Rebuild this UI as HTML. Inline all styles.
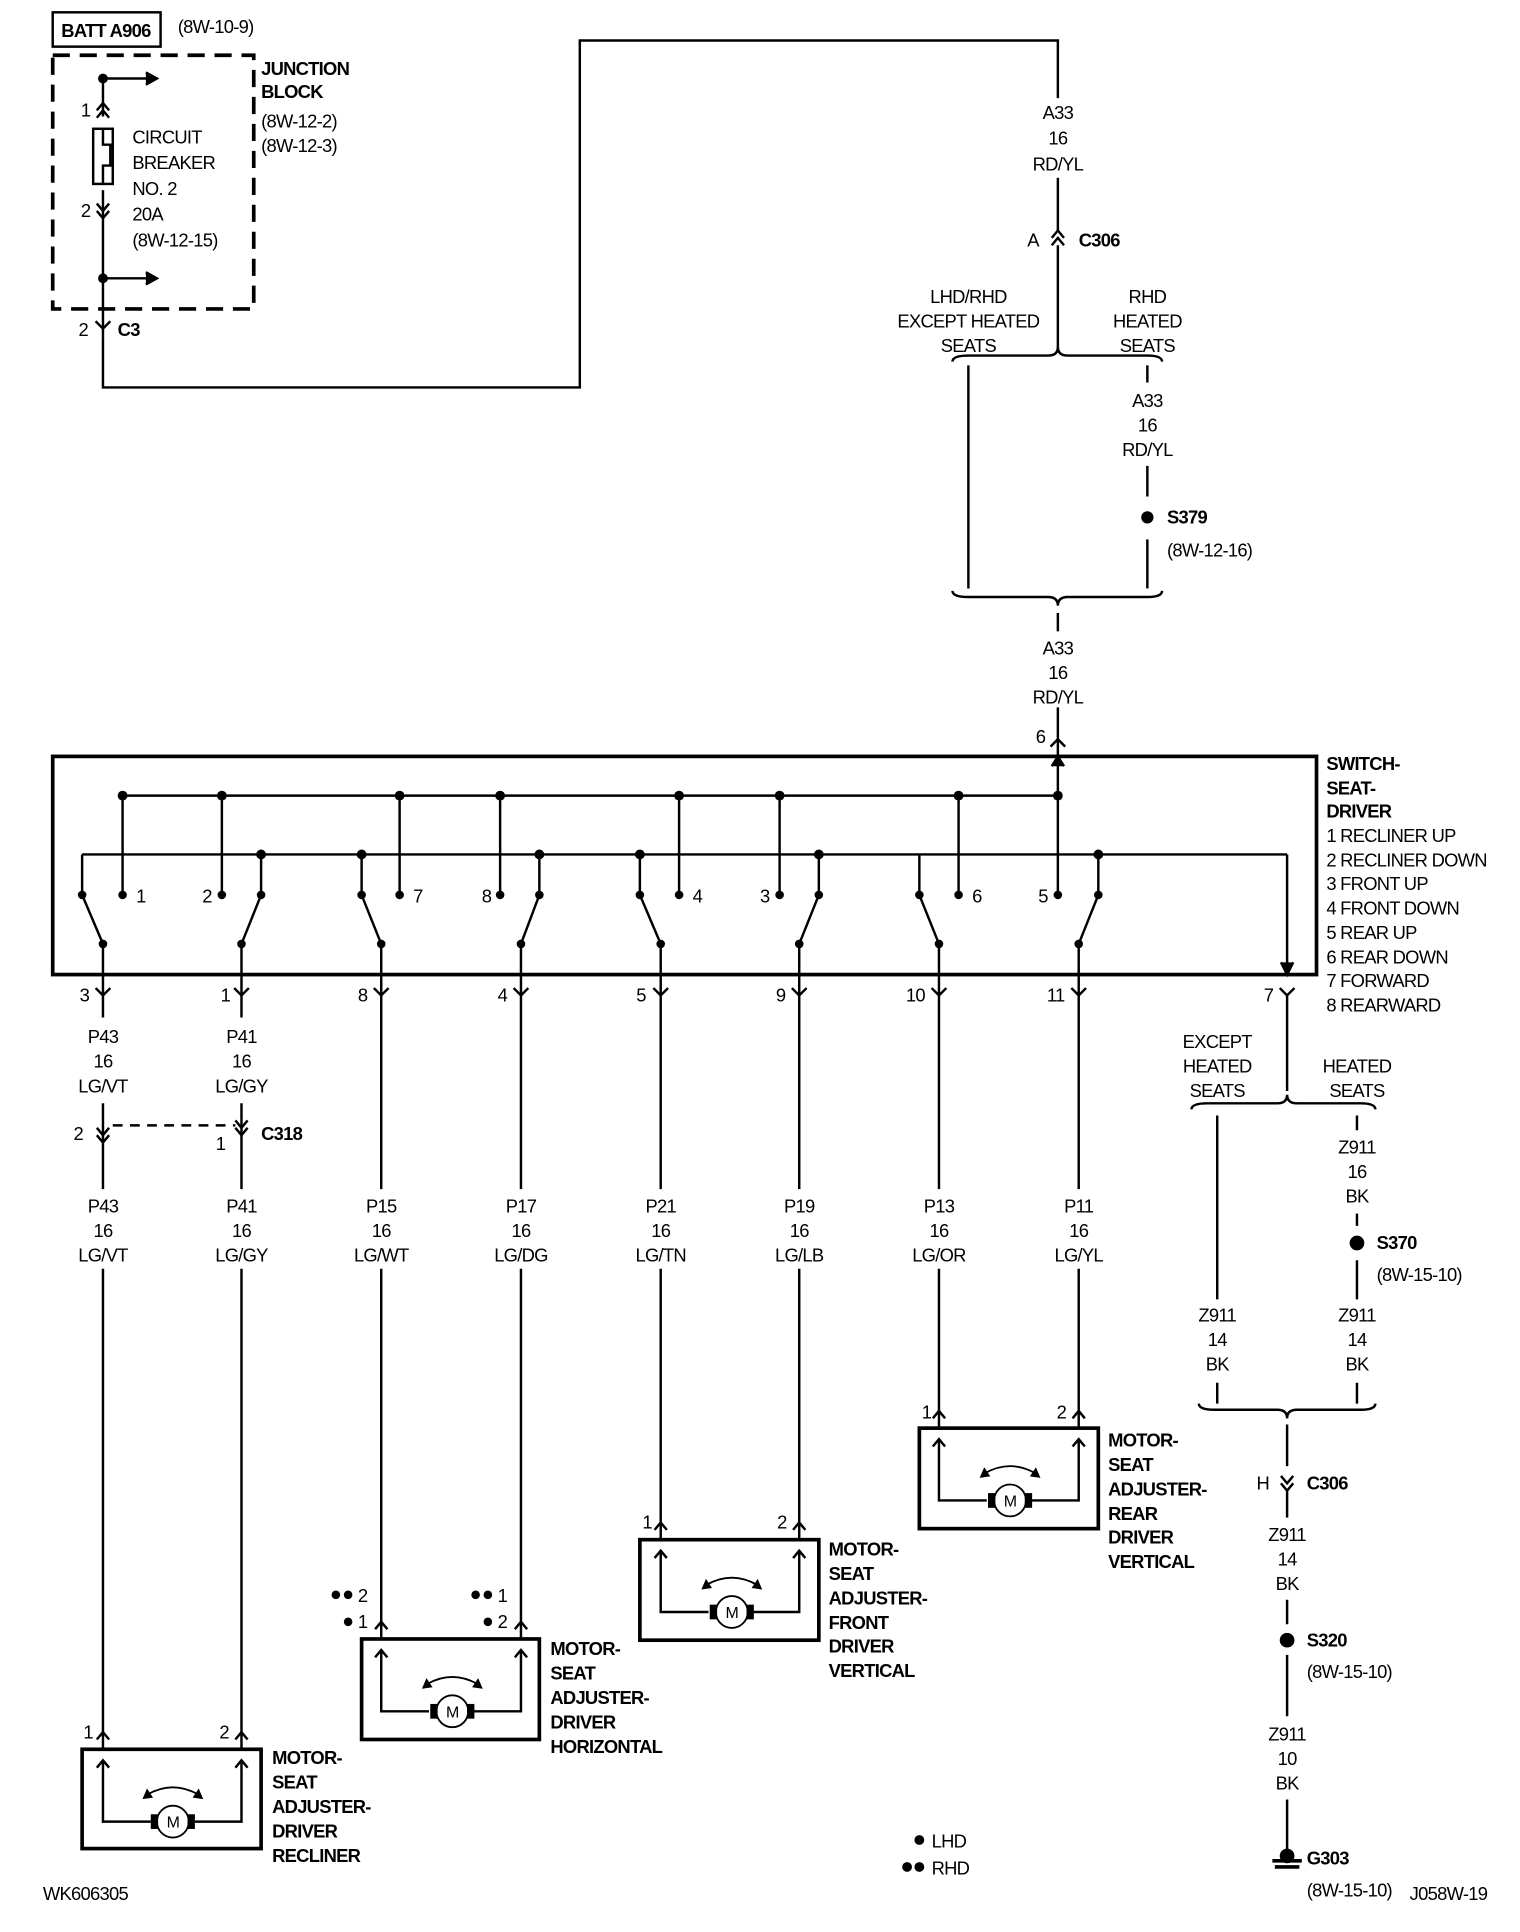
<!DOCTYPE html>
<html><head><meta charset="utf-8"><style>
html,body{margin:0;padding:0;background:#fff}
svg{display:block}
text{font-family:"Liberation Sans",sans-serif;font-size:15px;fill:#000;letter-spacing:-0.6px}
.b{font-weight:bold}
.c{text-anchor:middle}
</style></head><body>
<svg width="1520" height="1932" viewBox="0 0 1240 1576" xmlns="http://www.w3.org/2000/svg">
<g stroke="#000" stroke-width="2" fill="none">
<rect x="43" y="10" width="88" height="28"/>
<rect x="43" y="45" width="164" height="207" stroke-dasharray="14,8" stroke-width="3"/>
<line x1="84" y1="62" x2="84" y2="95"/><line x1="84" y1="155" x2="84" y2="275"/>
<line x1="84" y1="64" x2="125" y2="64"/><path d="M119 59 L128 64 L119 69" fill="#000"/>
<line x1="84" y1="227" x2="125" y2="227"/><path d="M119 222 L128 227 L119 232" fill="#000"/>
<rect x="76" y="105" width="16" height="45"/><path d="M84 105 V118 H90 V135 H84 V150"/>
<path d="M79 90 L84 84 L89 90 M79 96 L84 90 L89 96"/>
<path d="M79 166 L84 172 L89 166 M79 172 L84 178 L89 172"/>
<path d="M78 262 L84 268 L90 262"/>
<path d="M84 275 V316 H473 V33 H863 V80"/>
<line x1="863" y1="145" x2="863" y2="188"/>
<path d="M858 200 L863 194 L868 200 M858 194 L863 188 L868 194"/>
<line x1="863" y1="200" x2="863" y2="285"/>
<path d="M777 295 Q777 290 790 290 H855 Q863 290 863 283 Q863 290 871 290 H936 Q948 290 948 295"/>
<line x1="790" y1="298" x2="790" y2="480"/>
<line x1="936" y1="298" x2="936" y2="312"/><line x1="936" y1="380" x2="936" y2="405"/><line x1="936" y1="440" x2="936" y2="480"/>
<path d="M777 482 Q777 487 790 487 H855 Q863 487 863 494 Q863 487 871 487 H936 Q948 487 948 482"/>
<line x1="863" y1="500" x2="863" y2="515"/><line x1="863" y1="577" x2="863" y2="649"/>
<path d="M857 609 L863 603 L869 609"/>
<rect x="43" y="617" width="1031" height="178" stroke-width="3"/>
<line x1="100" y1="649" x2="863" y2="649"/>
<line x1="67" y1="697" x2="1050" y2="697"/>
<path d="M1050 697 V795"/><path d="M1045 785 L1050 795 L1055 785" fill="#000"/>
<path d="M858 625 L863 617 L868 625" fill="#000"/>
</g>
<g fill="#000">
<circle cx="84" cy="64" r="4"/><circle cx="84" cy="227" r="4"/>
<circle cx="936" cy="422" r="5"/>
<circle cx="1107" cy="1014" r="6"/><circle cx="1050" cy="1338" r="6"/>
<circle cx="750" cy="1501" r="4"/><circle cx="740" cy="1523" r="4"/><circle cx="750" cy="1523" r="4"/>
<circle cx="284" cy="1301" r="3.5"/><circle cx="274" cy="1301" r="3.5"/><circle cx="284" cy="1323" r="3.5"/>
<circle cx="398" cy="1301" r="3.5"/><circle cx="388" cy="1301" r="3.5"/><circle cx="398" cy="1323" r="3.5"/>
</g>
<g stroke="#000" stroke-width="2" fill="none">
<line x1="100" y1="649" x2="100" y2="730"/><line x1="181" y1="649" x2="181" y2="730"/>
<line x1="326" y1="649" x2="326" y2="730"/><line x1="408" y1="649" x2="408" y2="730"/>
<line x1="554" y1="649" x2="554" y2="730"/><line x1="636" y1="649" x2="636" y2="730"/>
<line x1="782" y1="649" x2="782" y2="730"/><line x1="863" y1="649" x2="863" y2="730"/>
<line x1="67" y1="697" x2="67" y2="730"/><line x1="213" y1="697" x2="213" y2="730"/>
<line x1="295" y1="697" x2="295" y2="730"/><line x1="440" y1="697" x2="440" y2="730"/>
<line x1="522" y1="697" x2="522" y2="730"/><line x1="668" y1="697" x2="668" y2="730"/>
<line x1="750" y1="697" x2="750" y2="730"/><line x1="896" y1="697" x2="896" y2="730"/>
<path d="M67 730 L84 770 V812"/><path d="M213 730 L197 770 V812"/>
<path d="M295 730 L311 770 V812"/><path d="M440 730 L425 770 V812"/>
<path d="M522 730 L539 770 V812"/><path d="M668 730 L652 770 V812"/>
<path d="M750 730 L766 770 V812"/><path d="M896 730 L880 770 V812"/>
</g>
<g fill="#000">
<circle cx="100" cy="649" r="4"/><circle cx="181" cy="649" r="4"/><circle cx="326" cy="649" r="4"/><circle cx="408" cy="649" r="4"/><circle cx="554" cy="649" r="4"/><circle cx="636" cy="649" r="4"/><circle cx="782" cy="649" r="4"/><circle cx="863" cy="649" r="4"/>
<circle cx="213" cy="697" r="4"/><circle cx="295" cy="697" r="4"/><circle cx="440" cy="697" r="4"/><circle cx="522" cy="697" r="4"/><circle cx="668" cy="697" r="4"/><circle cx="896" cy="697" r="4"/>
<circle cx="100" cy="730" r="3.5"/><circle cx="181" cy="730" r="3.5"/><circle cx="326" cy="730" r="3.5"/><circle cx="408" cy="730" r="3.5"/><circle cx="554" cy="730" r="3.5"/><circle cx="636" cy="730" r="3.5"/><circle cx="782" cy="730" r="3.5"/><circle cx="863" cy="730" r="3.5"/>
<circle cx="67" cy="730" r="3.5"/><circle cx="213" cy="730" r="3.5"/><circle cx="295" cy="730" r="3.5"/><circle cx="440" cy="730" r="3.5"/><circle cx="522" cy="730" r="3.5"/><circle cx="668" cy="730" r="3.5"/><circle cx="750" cy="730" r="3.5"/><circle cx="896" cy="730" r="3.5"/>
<circle cx="84" cy="770" r="3.5"/><circle cx="197" cy="770" r="3.5"/><circle cx="311" cy="770" r="3.5"/><circle cx="425" cy="770" r="3.5"/><circle cx="539" cy="770" r="3.5"/><circle cx="652" cy="770" r="3.5"/><circle cx="766" cy="770" r="3.5"/><circle cx="880" cy="770" r="3.5"/>
</g>
<g stroke="#000" stroke-width="2" fill="none">
<path d="M78 806 L84 812 L90 806 M191 806 L197 812 L203 806 M305 806 L311 812 L317 806 M419 806 L425 812 L431 806 M533 806 L539 812 L545 806 M646 806 L652 812 L658 806 M760 806 L766 812 L772 806 M874 806 L880 812 L886 806 M1044 806 L1050 812 L1056 806"/>
<path d="M84 812 V830 M197 812 V830 M84 900 V970 M197 900 V970"/>
<path d="M79 920 L84 926 L89 920 M79 926 L84 932 L89 926 M192 914 L197 920 L202 914 M192 920 L197 926 L202 920"/>
<line x1="92" y1="918" x2="192" y2="918" stroke-dasharray="8,6"/>
<path d="M84 1035 V1427 M197 1035 V1427"/>
<path d="M311 812 V970 M425 812 V970 M539 812 V970 M652 812 V970 M766 812 V970 M880 812 V970"/>
<path d="M311 1035 V1337 M425 1035 V1337 M539 1035 V1256 M652 1035 V1256 M766 1035 V1165 M880 1035 V1165"/>
<path d="M79 1419 L84 1413 L89 1419 M192 1419 L197 1413 L202 1419 M306 1329 L311 1323 L316 1329 M420 1329 L425 1323 L430 1329 M534 1248 L539 1242 L544 1248 M647 1248 L652 1242 L657 1248 M761 1157 L766 1151 L771 1157 M875 1157 L880 1151 L885 1157"/>
<rect x="67" y="1427" width="146" height="81" stroke-width="3"/>
<path d="M84 1436 V1486 H123 M159 1486 H197 V1436"/><path d="M79 1442 L84 1436 L89 1442 M192 1442 L197 1436 L202 1442"/>
<rect x="295" y="1337" width="145" height="82" stroke-width="3"/>
<path d="M311 1346 V1396 H350 M386 1396 H425 V1346"/><path d="M306 1352 L311 1346 L316 1352 M420 1352 L425 1346 L430 1352"/>
<rect x="522" y="1256" width="146" height="82" stroke-width="3"/>
<path d="M539 1265 V1315 H578 M614 1315 H652 V1265"/><path d="M534 1271 L539 1265 L544 1271 M647 1271 L652 1265 L657 1271"/>
<rect x="750" y="1165" width="146" height="82" stroke-width="3"/>
<path d="M766 1174 V1224 H805 M841 1224 H880 V1174"/><path d="M761 1180 L766 1174 L771 1180 M875 1180 L880 1174 L885 1180"/>
<g stroke-width="1.5">
<circle cx="141" cy="1486" r="13"/><circle cx="369" cy="1396" r="13"/><circle cx="597" cy="1315" r="13"/><circle cx="824" cy="1224" r="13"/>
<path d="M120 1464 Q141 1452 162 1464 M348 1374 Q369 1362 390 1374 M576 1293 Q597 1281 618 1293 M803 1202 Q824 1190 845 1202"/>
</g>
<g fill="#000" stroke-width="1">
<path d="M117 1467 L120 1460 L124 1466Z M165 1467 L162 1460 L158 1466Z"/>
<path d="M345 1377 L348 1370 L352 1376Z M393 1377 L390 1370 L386 1376Z"/>
<path d="M573 1296 L576 1289 L580 1295Z M621 1296 L618 1289 L614 1295Z"/>
<path d="M800 1205 L803 1198 L807 1204Z M848 1205 L845 1198 L841 1204Z"/>
</g>
<path d="M1050 812 V890"/>
<path d="M972 905 Q972 900 985 900 H1042 Q1050 900 1050 893 Q1050 900 1058 900 H1110 Q1122 900 1122 905"/>
<path d="M993 910 V1060 M993 1128 V1145 M1107 910 V922 M1107 990 V1000 M1107 1028 V1060 M1107 1128 V1145"/>
<path d="M978 1145 Q978 1150 991 1150 H1042 Q1050 1150 1050 1157 Q1050 1150 1058 1150 H1110 Q1122 1150 1122 1145"/>
<path d="M1050 1162 V1196 M1045 1204 L1050 1210 L1055 1204 M1045 1210 L1050 1216 L1055 1210 M1050 1216 V1238 M1050 1305 V1325 M1050 1350 V1400 M1050 1468 V1512"/>
<path d="M1038 1518 H1062 M1040 1523 H1060" stroke-width="3"/>
</g>
<circle cx="1050" cy="1514" r="6" fill="#000"/>
<g fill="#000">
<rect x="123" y="1480" width="6" height="12"/><rect x="153" y="1480" width="6" height="12"/>
<rect x="351" y="1390" width="6" height="12"/><rect x="381" y="1390" width="6" height="12"/>
<rect x="579" y="1309" width="6" height="12"/><rect x="609" y="1309" width="6" height="12"/>
<rect x="806" y="1218" width="6" height="12"/><rect x="836" y="1218" width="6" height="12"/>
</g>
<text x="141" y="1491" class="c" style="font-size:13px">M</text>
<text x="369" y="1401" class="c" style="font-size:13px">M</text>
<text x="597" y="1320" class="c" style="font-size:13px">M</text>
<text x="824" y="1229" class="c" style="font-size:13px">M</text>
<text x="50" y="30" class="b">BATT A906</text>
<text x="145" y="27">(8W-10-9)</text>
<text x="213" y="61" class="b">JUNCTION</text><text x="213" y="80" class="b">BLOCK</text>
<text x="213" y="104">(8W-12-2)</text><text x="213" y="124">(8W-12-3)</text>
<text x="108" y="117">CIRCUIT</text><text x="108" y="138">BREAKER</text><text x="108" y="159">NO. 2</text><text x="108" y="180">20A</text><text x="108" y="201">(8W-12-15)</text>
<text x="66" y="95">1</text><text x="66" y="177">2</text>
<text x="64" y="274">2</text><text x="96" y="274" class="b">C3</text>
<text x="863" y="97" class="c">A33</text><text x="863" y="118" class="c">16</text><text x="863" y="139" class="c">RD/YL</text>
<text x="790" y="247" class="c">LHD/RHD</text><text x="790" y="267" class="c">EXCEPT HEATED</text><text x="790" y="287" class="c">SEATS</text>
<text x="936" y="247" class="c">RHD</text><text x="936" y="267" class="c">HEATED</text><text x="936" y="287" class="c">SEATS</text>
<text x="936" y="332" class="c">A33</text><text x="936" y="352" class="c">16</text><text x="936" y="372" class="c">RD/YL</text>
<text x="863" y="534" class="c">A33</text><text x="863" y="554" class="c">16</text><text x="863" y="574" class="c">RD/YL</text>
<text x="838" y="201">A</text><text x="880" y="201" class="b">C306</text>
<text x="952" y="427" class="b">S379</text><text x="952" y="454">(8W-12-16)</text>
<text x="845" y="606">6</text>
<text x="1082" y="628" class="b">SWITCH-</text><text x="1082" y="648" class="b">SEAT-</text><text x="1082" y="667" class="b">DRIVER</text>
<text x="1082" y="687">1 RECLINER UP</text><text x="1082" y="707">2 RECLINER DOWN</text><text x="1082" y="726">3 FRONT UP</text><text x="1082" y="746">4 FRONT DOWN</text><text x="1082" y="766">5 REAR UP</text><text x="1082" y="786">6 REAR DOWN</text><text x="1082" y="805">7 FORWARD</text><text x="1082" y="825">8 REARWARD</text>
<text x="111" y="736">1</text><text x="165" y="736">2</text><text x="337" y="736">7</text><text x="393" y="736">8</text><text x="565" y="736">4</text><text x="620" y="736">3</text><text x="793" y="736">6</text><text x="847" y="736">5</text>
<text x="65" y="817">3</text><text x="180" y="817">1</text><text x="292" y="817">8</text><text x="406" y="817">4</text><text x="519" y="817">5</text><text x="633" y="817">9</text><text x="739" y="817">10</text><text x="854" y="817">11</text><text x="1031" y="817">7</text>
<text x="84" y="851" class="c">P43</text><text x="84" y="871" class="c">16</text><text x="84" y="891" class="c">LG/VT</text>
<text x="197" y="851" class="c">P41</text><text x="197" y="871" class="c">16</text><text x="197" y="891" class="c">LG/GY</text>
<text x="84" y="989" class="c">P43</text><text x="84" y="1009" class="c">16</text><text x="84" y="1029" class="c">LG/VT</text>
<text x="197" y="989" class="c">P41</text><text x="197" y="1009" class="c">16</text><text x="197" y="1029" class="c">LG/GY</text>
<text x="311" y="989" class="c">P15</text><text x="311" y="1009" class="c">16</text><text x="311" y="1029" class="c">LG/WT</text>
<text x="425" y="989" class="c">P17</text><text x="425" y="1009" class="c">16</text><text x="425" y="1029" class="c">LG/DG</text>
<text x="539" y="989" class="c">P21</text><text x="539" y="1009" class="c">16</text><text x="539" y="1029" class="c">LG/TN</text>
<text x="652" y="989" class="c">P19</text><text x="652" y="1009" class="c">16</text><text x="652" y="1029" class="c">LG/LB</text>
<text x="766" y="989" class="c">P13</text><text x="766" y="1009" class="c">16</text><text x="766" y="1029" class="c">LG/OR</text>
<text x="880" y="989" class="c">P11</text><text x="880" y="1009" class="c">16</text><text x="880" y="1029" class="c">LG/YL</text>
<text x="60" y="930">2</text><text x="176" y="938">1</text><text x="213" y="930" class="b">C318</text>
<text x="68" y="1418">1</text><text x="179" y="1418">2</text>
<text x="292" y="1307">2</text><text x="292" y="1328">1</text><text x="406" y="1307">1</text><text x="406" y="1328">2</text>
<text x="524" y="1247">1</text><text x="634" y="1247">2</text>
<text x="752" y="1157">1</text><text x="862" y="1157">2</text>
<text x="222" y="1439" class="b">MOTOR-</text><text x="222" y="1459" class="b">SEAT</text><text x="222" y="1479" class="b">ADJUSTER-</text><text x="222" y="1499" class="b">DRIVER</text><text x="222" y="1519" class="b">RECLINER</text>
<text x="449" y="1350" class="b">MOTOR-</text><text x="449" y="1370" class="b">SEAT</text><text x="449" y="1390" class="b">ADJUSTER-</text><text x="449" y="1410" class="b">DRIVER</text><text x="449" y="1430" class="b">HORIZONTAL</text>
<text x="676" y="1269" class="b">MOTOR-</text><text x="676" y="1289" class="b">SEAT</text><text x="676" y="1309" class="b">ADJUSTER-</text><text x="676" y="1329" class="b">FRONT</text><text x="676" y="1348" class="b">DRIVER</text><text x="676" y="1368" class="b">VERTICAL</text>
<text x="904" y="1180" class="b">MOTOR-</text><text x="904" y="1200" class="b">SEAT</text><text x="904" y="1220" class="b">ADJUSTER-</text><text x="904" y="1240" class="b">REAR</text><text x="904" y="1259" class="b">DRIVER</text><text x="904" y="1279" class="b">VERTICAL</text>
<text x="993" y="855" class="c">EXCEPT</text><text x="993" y="875" class="c">HEATED</text><text x="993" y="895" class="c">SEATS</text>
<text x="1107" y="875" class="c">HEATED</text><text x="1107" y="895" class="c">SEATS</text>
<text x="1107" y="941" class="c">Z911</text><text x="1107" y="961" class="c">16</text><text x="1107" y="981" class="c">BK</text>
<text x="1123" y="1019" class="b">S370</text><text x="1123" y="1045">(8W-15-10)</text>
<text x="993" y="1078" class="c">Z911</text><text x="993" y="1098" class="c">14</text><text x="993" y="1118" class="c">BK</text>
<text x="1107" y="1078" class="c">Z911</text><text x="1107" y="1098" class="c">14</text><text x="1107" y="1118" class="c">BK</text>
<text x="1025" y="1215">H</text><text x="1066" y="1215" class="b">C306</text>
<text x="1050" y="1257" class="c">Z911</text><text x="1050" y="1277" class="c">14</text><text x="1050" y="1297" class="c">BK</text>
<text x="1066" y="1343" class="b">S320</text><text x="1066" y="1369">(8W-15-10)</text>
<text x="1050" y="1420" class="c">Z911</text><text x="1050" y="1440" class="c">10</text><text x="1050" y="1460" class="c">BK</text>
<text x="1066" y="1521" class="b">G303</text><text x="1066" y="1547">(8W-15-10)</text>
<text x="1150" y="1550">J058W-19</text>
<text x="35" y="1550">WK606305</text>
<text x="760" y="1507">LHD</text><text x="760" y="1529">RHD</text>
</svg>
</body></html>
